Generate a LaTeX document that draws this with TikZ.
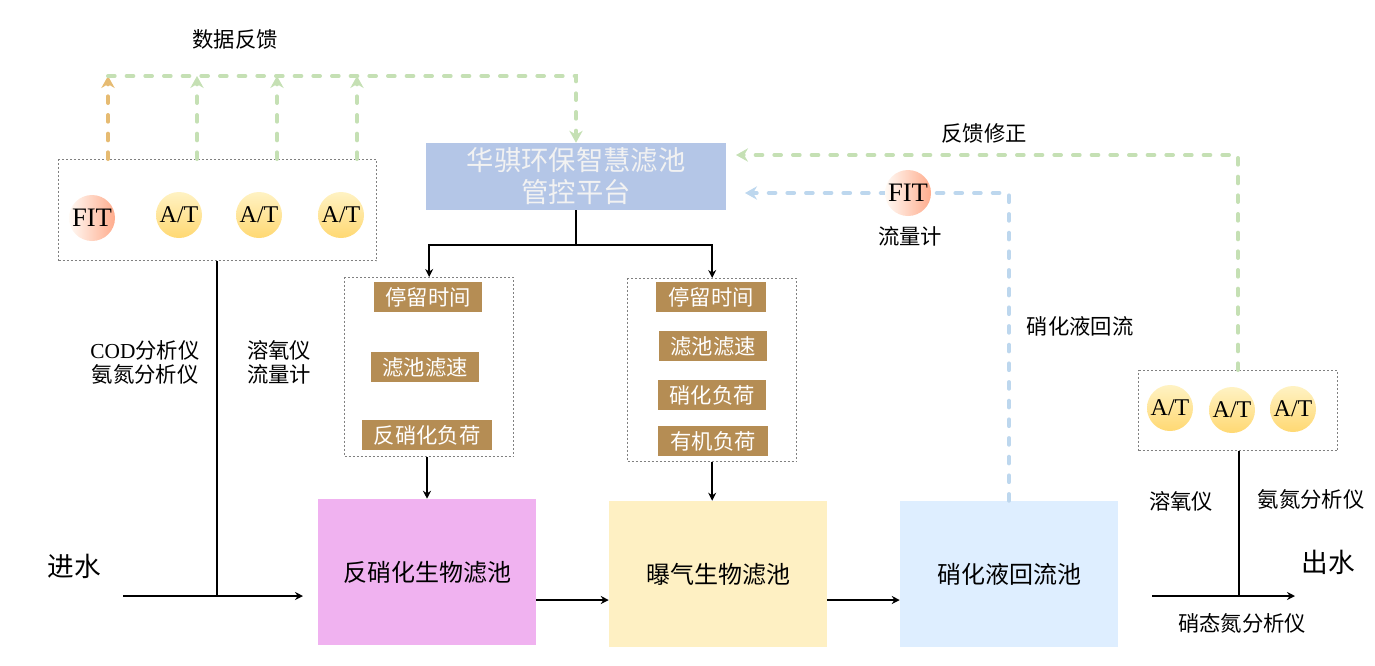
\documentclass[tikz,border=0pt]{standalone}
\usepackage{fontspec}
\usepackage{xcolor}
\usetikzlibrary{arrows.meta}
\setmainfont{Noto Sans CJK SC}
\newfontfamily\latinfont{Liberation Serif}
\definecolor{fbgreen}{HTML}{C5E0B4}
\definecolor{fborange}{HTML}{E6BB72}
\definecolor{fbblue}{HTML}{BDD7EE}
\definecolor{platblue}{HTML}{B4C6E7}
\definecolor{tagbrown}{HTML}{B58D54}
\tikzset{
    dashflow/.style={line width=3pt,line cap=round,dash pattern=on 5pt off 9pt,-{Stealth[length=9pt,width=10pt]}},
    dashplain/.style={line width=3pt,line cap=round,dash pattern=on 5pt off 9pt},
    flow/.style={line width=1.2pt,-{Stealth[length=6pt,width=6pt]}},
    plainflow/.style={line width=1.2pt},
    dotbox/.style={draw=gray,line width=1pt,dash pattern=on 1.5pt off 1.5pt,anchor=north west},
    tagbox/.style={fill=tagbrown,text=white,font=\fontsize{16}{18}\selectfont,minimum height=22.5pt,inner sep=0pt},
    tank/.style={minimum width=163.5pt,minimum height=109.5pt,inner sep=0pt,font=\fontsize{18}{20}\selectfont},
    atball/.style={circle,minimum size=34.5pt,inner sep=0pt,top color=white!85!yellow!90!orange,bottom color=yellow!45!orange!55,font=\latinfont\fontsize{18}{20}\selectfont},
    fitball/.style={circle,minimum size=34.5pt,inner sep=0pt,left color=orange!4,right color=orange!55!red!45,font=\latinfont\fontsize{20}{22}\selectfont},
    lbl/.style={font=\fontsize{16}{18}\selectfont},
    biglbl/.style={font=\fontsize{20}{22}\selectfont}
}
\begin{document}
\begin{tikzpicture}[x=0.75pt,y=-0.75pt]
    \useasboundingbox (0,0) rectangle (1375,665);

    % platform and tanks
    \node[fill=platblue,text=white!95!black,minimum width=225pt,minimum height=50.25pt,inner sep=0pt,align=center,font=\fontsize{20.5}{24}\selectfont] (platform) at (576,176.5) {华骐环保智慧滤池\\管控平台};
    \node[tank,fill=violet!40!magenta!30!white] (denitank) at (427,572) {反硝化生物滤池};
    \node[tank,fill=yellow!55!orange!22!white] (aertank) at (718,574) {曝气生物滤池};
    \node[tank,fill=blue!50!cyan!13!white] (nitrotank) at (1009,574) {硝化液回流池};

    % dotted boxes
    \node[dotbox,minimum width=238.5pt,minimum height=75.75pt] (inbox) at (58,159) {};
    \node[dotbox,minimum width=126.75pt,minimum height=134.25pt] (denibox) at (344,277) {};
    \node[dotbox,minimum width=126.75pt,minimum height=137.25pt] (aerbox) at (627,278) {};
    \node[dotbox,minimum width=149.25pt,minimum height=60pt] (outbox) at (1138,370) {};

    % analyser balls
    \node[fitball] (fitin) at (92,218) {FIT};
    \node[atball] (atone) at (179,215) {A/T};
    \node[atball] (attwo) at (259,215) {A/T};
    \node[atball] (atthree) at (341,215) {A/T};
    \node[atball] (atfour) at (1170,408) {A/T};
    \node[atball] (atfive) at (1232,410) {A/T};
    \node[atball] (atsix) at (1293,409) {A/T};

    % parameter tags
    \node[tagbox,minimum width=81pt] (stayone) at (428,297) {停留时间};
    \node[tagbox,minimum width=81pt] (speedone) at (425,367) {滤池滤速};
    \node[tagbox,minimum width=97.5pt] (loadone) at (427,435) {反硝化负荷};
    \node[tagbox,minimum width=82.5pt] (staytwo) at (711,297) {停留时间};
    \node[tagbox,minimum width=81pt] (speedtwo) at (713,346) {滤池滤速};
    \node[tagbox,minimum width=81pt] (nitload) at (712,395) {硝化负荷};
    \node[tagbox,minimum width=82.5pt] (orgload) at (713,441) {有机负荷};

    % free ends and bends
    \coordinate (topleft) at (108,76);
    \coordinate (topright) at (576,76);
    \coordinate (topone) at (197,76);
    \coordinate (toptwo) at (277,76);
    \coordinate (topthree) at (357,76);
    \coordinate (split) at (576,245);
    \coordinate (inflow) at (123,596);
    \coordinate (inend) at (303,596);
    \coordinate (injoin) at (217,596);
    \coordinate (outflow) at (1152,596);
    \coordinate (outend) at (1295,596);
    \coordinate (outjoin) at (1239,596);
    \coordinate (fixend) at (736,155);
    \coordinate (fixbend) at (1238,155);
    \coordinate (backend) at (745,193);
    \coordinate (backbend) at (1009,193);

    % data feedback
    \draw[dashflow,fborange] (inbox.north -| topleft) -- (topleft);
    \draw[dashflow,fbgreen] (inbox.north -| topone) -- (topone);
    \draw[dashflow,fbgreen] (inbox.north -| toptwo) -- (toptwo);
    \draw[dashflow,fbgreen] (inbox.north -| topthree) -- (topthree);
    \draw[dashflow,fbgreen] (topleft) -- (topright) -- (platform.north);

    % correction and return
    \draw[dashflow,fbgreen] (outbox.north -| fixbend) -- (fixbend) -- (fixend);
    \draw[dashflow,fbblue] (nitrotank.north) -- (backbend) -- (backend);
    \node[fitball] (fitback) at (908,193) {FIT};

    % control lines
    \draw[plainflow] (platform.south) -- (split);
    \draw[flow] (split) -- (split -| denibox.north) -- (denibox.north);
    \draw[flow] (split) -- (split -| aerbox.north) -- (aerbox.north);
    \draw[flow] (denibox.south -| denitank.north) -- (denitank.north);
    \draw[flow] (aerbox.south) -- (aerbox.south |- aertank.north);

    % water line
    \draw[flow] (inflow) -- (inend);
    \draw[plainflow] (injoin) -- (injoin |- inbox.south);
    \draw[flow] (denitank.east |- 0,600) -- (aertank.west |- 0,600);
    \draw[flow] (aertank.east |- 0,600) -- (nitrotank.west |- 0,600);
    \draw[flow] (outflow) -- (outend);
    \draw[plainflow] (outjoin) -- (outjoin |- outbox.south);

    % labels
    \node[lbl] (datafb) at (235,39) {数据反馈};
    \node[lbl] (fixfb) at (984,133) {反馈修正};
    \node[lbl] (fitname) at (910,236) {流量计};
    \node[lbl] (returnname) at (1080,326) {硝化液回流};
    \node[lbl,align=center,inner sep=0pt] (inleft) at (145,362) {{\latinfont COD}分析仪\\氨氮分析仪};
    \node[lbl,align=center,inner sep=0pt] (inright) at (279,362) {溶氧仪\\流量计};
    \node[lbl] (outdo) at (1181,501) {溶氧仪};
    \node[lbl] (outnh) at (1311,499) {氨氮分析仪};
    \node[lbl] (outno) at (1242,623) {硝态氮分析仪};
    \node[biglbl] (inwater) at (74,566) {进水};
    \node[biglbl] (outwater) at (1328,562) {出水};
\end{tikzpicture}
\end{document}
